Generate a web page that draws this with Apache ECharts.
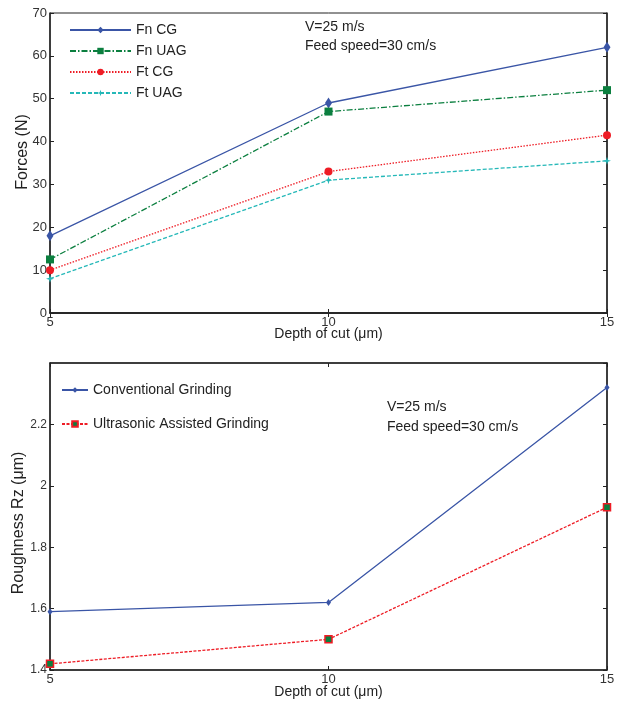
<!DOCTYPE html>
<html>
<head>
<meta charset="utf-8">
<script src="https://cdn.jsdelivr.net/npm/echarts@6/dist/echarts.min.js"></script>
<style>
  html, body { margin: 0; padding: 0; background: #fff; }
  #main { width: 619px; height: 704px; }
</style>
</head>
<body>
<div id="main"></div>
<script>
// data
var depths = [5, 10, 15];
var fnCG = [18, 49, 62];
var fnUAG = [12.5, 47, 52];
var ftCG = [10, 33, 41.5];
var ftUAG = [8, 31, 35.5];
var rzCG = [1.59, 1.62, 2.32];
var rzUAG = [1.42, 1.50, 1.93];
var forceTicks = [0, 70, 10];
var roughTicks = [1.4, 2.4, 0.2];

var FONT = 'Liberation Sans, Arial, sans-serif';
var starPath = 'path://M0,-5 L1.2,-1.2 L5,0 L1.2,1.2 L0,5 L-1.2,1.2 L-5,0 L-1.2,-1.2 Z';

function pairs(ys) {
  return depths.map(function (d, i) { return [d, ys[i]]; });
}

function xAx(gi, show, gap) {
  return {
    type: 'value', gridIndex: gi, min: 5, max: 15, interval: 5,
    position: show ? 'bottom' : 'top',
    name: show ? 'Depth of cut (μm)' : '',
    nameLocation: 'middle', nameGap: gap || 14, nameMoveOverlap: false,
    nameTextStyle: { fontFamily: FONT, fontSize: 14, color: '#222' },
    axisLine: { show: true, lineStyle: { color: '#222', width: 1.5 } },
    axisTick: { show: true, inside: true, length: 4, lineStyle: { color: '#222' } },
    axisLabel: { show: show, margin: 3, fontFamily: FONT, fontSize: 13, color: '#333' },
    splitLine: { show: false }
  };
}

function yAx(gi, t, show, name, gap, fs, pad) {
  return {
    type: 'value', gridIndex: gi, min: t[0], max: t[1], interval: t[2],
    position: show ? 'left' : 'right',
    name: show ? name : '',
    nameLocation: 'middle', nameGap: gap, nameMoveOverlap: false,
    nameTextStyle: { fontFamily: FONT, fontSize: 16, color: '#222', padding: pad || 0 },
    axisLine: { show: true, lineStyle: { color: '#222', width: 1.5 } },
    axisTick: { show: true, inside: true, length: 4, lineStyle: { color: '#222' } },
    axisLabel: {
      show: show, margin: 3, fontFamily: FONT, fontSize: fs, color: '#333',
      showMaxLabel: gi === 0,
      formatter: function (v) { return String(Math.round(v * 10) / 10); }
    },
    splitLine: { show: false }
  };
}

var chart = echarts.init(document.getElementById('main'));

var option = {
  backgroundColor: '#fff',
  animation: false,
  grid: [
    { left: 50, right: 12, top: 13, height: 300, show: true, borderColor: '#222', borderWidth: 1, outerBoundsMode: 'none' },
    { left: 50, right: 12, top: 363, height: 307, show: true, borderColor: '#222', borderWidth: 1, outerBoundsMode: 'none' }
  ],
  xAxis: [xAx(0, true, 14), xAx(0, false), xAx(1, true, 15), xAx(1, false)],
  yAxis: [
    yAx(0, forceTicks, true, 'Forces (N)', 19, 13, [0, 0, 0, 22]),
    yAx(0, forceTicks, false, '', 0, 13),
    yAx(1, roughTicks, true, 'Roughness Rz (μm)', 23, 12, [0, 13, 0, 0]),
    yAx(1, roughTicks, false, '', 0, 12)
  ],
  legend: [
    {
      orient: 'vertical', left: 64, top: 18, itemWidth: 61, itemHeight: 8, itemGap: 7,
      textStyle: { fontFamily: FONT, fontSize: 14, color: '#222' },
      data: ['Fn CG', 'Fn UAG', 'Ft CG', 'Ft UAG']
    },
    {
      orient: 'vertical', left: 56, top: 378, itemWidth: 26, itemHeight: 7, itemGap: 20,
      textStyle: { fontFamily: FONT, fontSize: 14, color: '#222' },
      data: ['Conventional Grinding', 'Ultrasonic Assisted Grinding']
    }
  ],
  graphic: [
    { type: 'text', left: 305, top: 20, style: { text: 'V=25 m/s', font: '14px ' + FONT, fill: '#222' } },
    { type: 'text', left: 305, top: 39, style: { text: 'Feed speed=30 cm/s', font: '14px ' + FONT, fill: '#222' } },
    { type: 'text', left: 387, top: 400, style: { text: 'V=25 m/s', font: '14px ' + FONT, fill: '#222' } },
    { type: 'text', left: 387, top: 420, style: { text: 'Feed speed=30 cm/s', font: '14px ' + FONT, fill: '#222' } }
  ],
  series: [
    {
      name: 'Fn CG', type: 'line', xAxisIndex: 0, yAxisIndex: 0, data: pairs(fnCG),
      symbol: 'diamond', symbolSize: [7, 11], color: '#3a55a6',
      lineStyle: { color: '#3a55a6', width: 1.3 }
    },
    {
      name: 'Fn UAG', type: 'line', xAxisIndex: 0, yAxisIndex: 0, data: pairs(fnUAG),
      symbol: 'rect', symbolSize: 8, color: '#0b7f3f',
      lineStyle: { color: '#0b7f3f', width: 1.3, type: [6, 2, 1.5, 2] }
    },
    {
      name: 'Ft CG', type: 'line', xAxisIndex: 0, yAxisIndex: 0, data: pairs(ftCG),
      symbol: 'circle', symbolSize: 8, color: '#ee1c25',
      lineStyle: { color: '#ee1c25', width: 1.3, type: [1.5, 1.5] }
    },
    {
      name: 'Ft UAG', type: 'line', xAxisIndex: 0, yAxisIndex: 0, data: pairs(ftUAG),
      symbol: starPath, symbolSize: 8, color: '#25b8b8',
      lineStyle: { color: '#25b8b8', width: 1.3, type: [4, 2] }
    },
    {
      name: 'Conventional Grinding', type: 'line', xAxisIndex: 2, yAxisIndex: 2, data: pairs(rzCG),
      symbol: 'diamond', symbolSize: [5, 7], color: '#3a55a6',
      lineStyle: { color: '#3a55a6', width: 1.3 }
    },
    {
      name: 'Ultrasonic Assisted Grinding', type: 'line', xAxisIndex: 2, yAxisIndex: 2, data: pairs(rzUAG),
      symbol: 'rect', symbolSize: 7, color: '#ee1c25',
      itemStyle: { color: '#0b7f3f', borderColor: '#ee1c25', borderWidth: 1.5 },
      lineStyle: { color: '#ee1c25', width: 1.3, type: [3, 1.5] }
    }
  ]
};

chart.setOption(option);
</script>
</body>
</html>
